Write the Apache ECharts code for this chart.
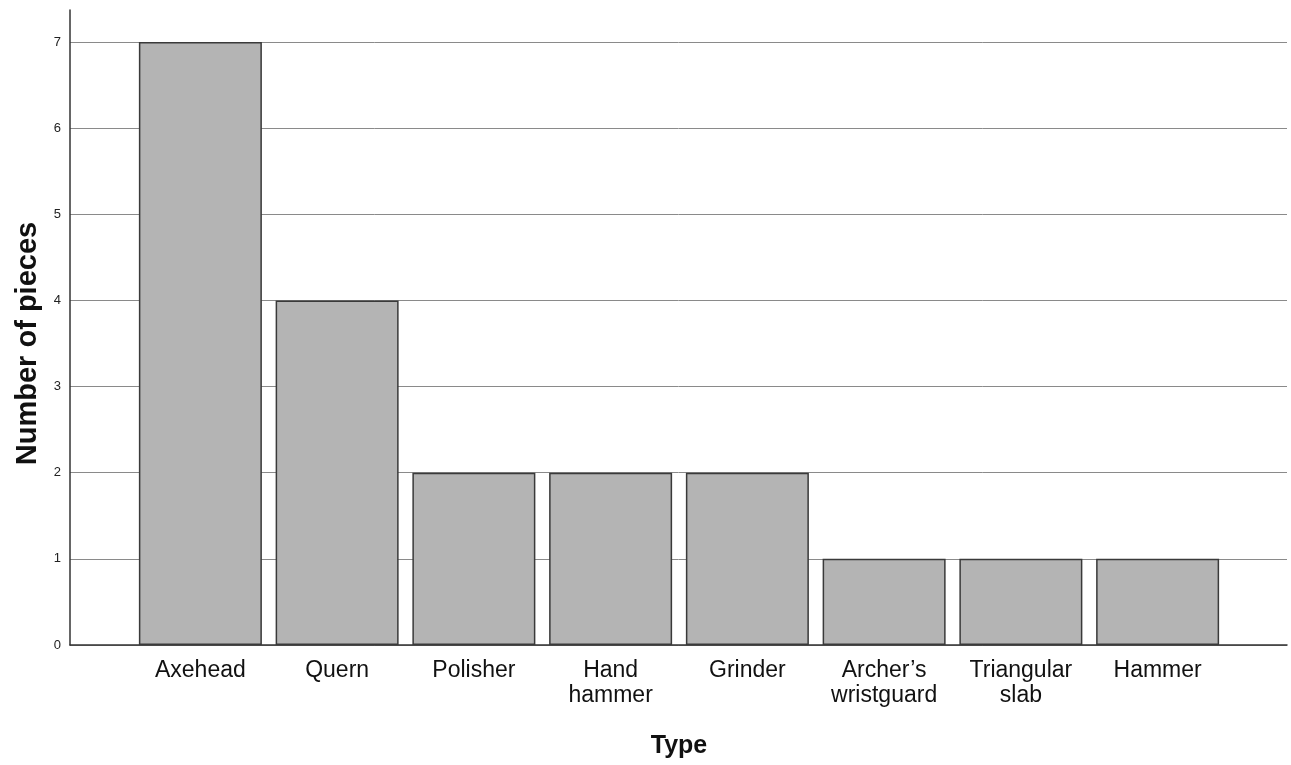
<!DOCTYPE html>
<html><head><meta charset="utf-8">
<script src="https://cdn.jsdelivr.net/npm/echarts@6/dist/echarts.min.js"></script>
<style>html,body{margin:0;padding:0;background:#fff}#c{width:1291px;height:765px}</style>
</head><body><div id="c"></div>
<script>
const categories = ['Axehead','Quern','Polisher','Hand\nhammer','Grinder','Archer\u2019s\nwristguard','Triangular\nslab','Hammer'];
const counts = [7,4,2,2,2,1,1,1];
const yTicks = [0,1,2,3,4,5,6,7];

const chart = echarts.init(document.getElementById('c'), null, {renderer:'canvas'});
const font = '"Liberation Sans", Arial, sans-serif';
chart.setOption({
  animation:false,
  grid:[
    {left:70, right:4, top:10, bottom:120},
    {left:70, right:4, top:42, bottom:120},
    {left:132, right:65, top:42, bottom:120}
  ],
  xAxis:[
    {gridIndex:0, type:'value', min:0, max:1, axisLine:{show:true, onZero:false, lineStyle:{color:'#333', width:1.5}}, axisTick:{show:false}, axisLabel:{show:false}, splitLine:{show:false}},
    {gridIndex:1, type:'value', min:0, max:1, show:false},
    {gridIndex:2, type:'category', data:categories, axisLine:{show:false}, axisTick:{show:false},
     axisLabel:{interval:0, color:'#111', fontFamily:font, fontSize:23, lineHeight:25, margin:13, verticalAlign:'top'},
     name:'Type', nameLocation:'middle', nameGap:89, nameTextStyle:{fontFamily:font, fontSize:25, fontWeight:'bold', color:'#111'}}
  ],
  yAxis:[
    {gridIndex:0, type:'value', min:0, max:1, axisLine:{show:true, lineStyle:{color:'#333', width:1.5}}, axisTick:{show:false}, axisLabel:{show:false}, splitLine:{show:false}},
    {gridIndex:1, type:'value', min:0, max:7, interval:1, axisLine:{show:false}, axisTick:{show:false},
     axisLabel:{color:'#222', fontFamily:font, fontSize:13, margin:9, formatter:(v)=> yTicks.includes(v) ? String(v) : ''},
     splitLine:{show:true, lineStyle:{color:'#8a8a8a', width:1}},
     name:'Number of pieces', nameLocation:'middle', nameGap:28, nameRotate:90, nameTextStyle:{fontFamily:font, fontSize:29, fontWeight:'bold', color:'#111'}},
    {gridIndex:2, type:'value', min:0, max:7, show:false}
  ],
  series:[{
    type:'bar', xAxisIndex:2, yAxisIndex:2, data:counts, barWidth:123,
    itemStyle:{color:'#b4b4b4', borderColor:'#3a3a3a', borderWidth:1.5}
  }]
});
</script></body></html>
